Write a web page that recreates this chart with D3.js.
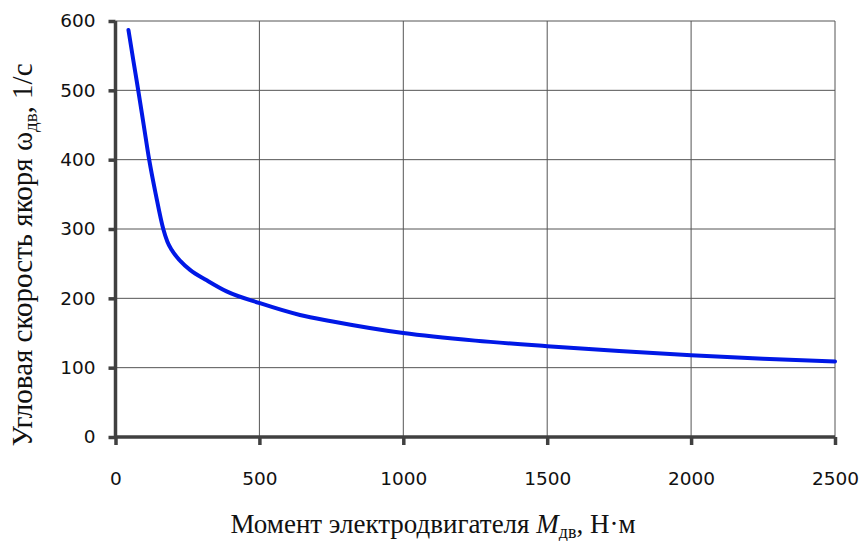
<!DOCTYPE html>
<html>
<head>
<meta charset="utf-8">
<script src="https://cdn.jsdelivr.net/npm/d3@7"></script>
<style>
  body { margin: 0; background: #fff; }
  svg { display: block; }
</style>
</head>
<body>
<svg id="chart" width="862" height="541"></svg>
<script>
// curve: torque (N·m) -> angular speed (1/s)
const torque = [45, 62, 79, 98, 117, 140, 166, 180, 195, 225, 259, 317, 386, 502, 641, 750, 1000, 1250, 1500, 1750, 2000, 2250, 2500];
const speed  = [587, 543, 500, 450, 400, 350, 300, 282, 270, 254, 241, 226, 210, 193, 176, 167, 150, 139, 131, 124, 118, 113, 109];
const xTicks = [0, 500, 1000, 1500, 2000, 2500];
const yTicks = [0, 100, 200, 300, 400, 500, 600];

const svg = d3.select("#chart");
const margin = { top: 21, right: 27, bottom: 104, left: 115.5 };
const width = 862 - margin.left - margin.right,
  height = 541 - margin.top - margin.bottom;
const axisColor = "#404040";

const g = svg.append("g").attr("transform", "translate(" + margin.left + "," + margin.top + ")");

const x = d3.scaleLinear().domain([0, 2500]).range([0, width]);
const y = d3.scaleLinear().domain([0, 600]).range([height, 0]);

// grid
g.append("g").selectAll("line").data(yTicks.slice(1)).enter().append("line")
  .attr("x1", 0).attr("x2", width)
  .attr("y1", d => y(d)).attr("y2", d => y(d))
  .attr("stroke", "#555").attr("stroke-width", 1);
g.append("g").selectAll("line").data(xTicks.slice(1)).enter().append("line")
  .attr("x1", d => x(d)).attr("x2", d => x(d))
  .attr("y1", 0).attr("y2", height)
  .attr("stroke", "#555").attr("stroke-width", 1);

// axes
const fmt = d3.format("d");
const yAxis = g.append("g").call(d3.axisLeft(y).tickValues(yTicks).tickFormat(fmt).tickSize(7).tickPadding(13));
const xAxis = g.append("g").attr("transform", "translate(0," + height + ")")
  .call(d3.axisBottom(x).tickValues(xTicks).tickFormat(fmt).tickSize(8).tickPadding(27));
[xAxis, yAxis].forEach(a => {
  a.select(".domain").attr("stroke", axisColor).attr("stroke-width", 3.5);
  a.selectAll(".tick line").attr("stroke", axisColor).attr("stroke-width", 3.5);
  a.selectAll(".tick text").attr("fill", "#111")
    .style("font-family", "'DejaVu Sans', sans-serif").style("font-size", "18.5px");
});
yAxis.select(".domain").attr("d", "M0," + (height + 1.5) + "V0");
xAxis.select(".domain").attr("d", "M0,0H" + width);

// curve
const line = d3.line()
  .x((d, i) => x(torque[i]))
  .y(d => y(d))
  .curve(d3.curveMonotoneX);
g.append("path").datum(speed)
  .attr("d", line)
  .attr("fill", "none")
  .attr("stroke", "#0018e6")
  .attr("stroke-width", 4)
  .attr("stroke-linecap", "round");

// axis titles
const serif = "'Liberation Serif', 'Times New Roman', serif";
const xt = svg.append("text")
  .attr("x", 433).attr("y", 533)
  .attr("text-anchor", "middle")
  .style("font-family", serif).style("font-size", "27px").attr("fill", "#111");
xt.append("tspan").text("Момент электродвигателя ");
xt.append("tspan").style("font-style", "italic").text("M");
xt.append("tspan").attr("dy", 5).style("font-size", "18px").text("дв");
xt.append("tspan").attr("dy", -5).text(", Н·м");

const yt = svg.append("text")
  .attr("transform", "translate(32,255)rotate(-90)")
  .attr("text-anchor", "middle")
  .style("font-family", serif).style("font-size", "29px").attr("fill", "#111");
yt.append("tspan").text("Угловая скорость якоря ω");
yt.append("tspan").attr("dy", 5).style("font-size", "19px").text("дв");
yt.append("tspan").attr("dy", -5).text(", 1/с");
</script>
</body>
</html>
